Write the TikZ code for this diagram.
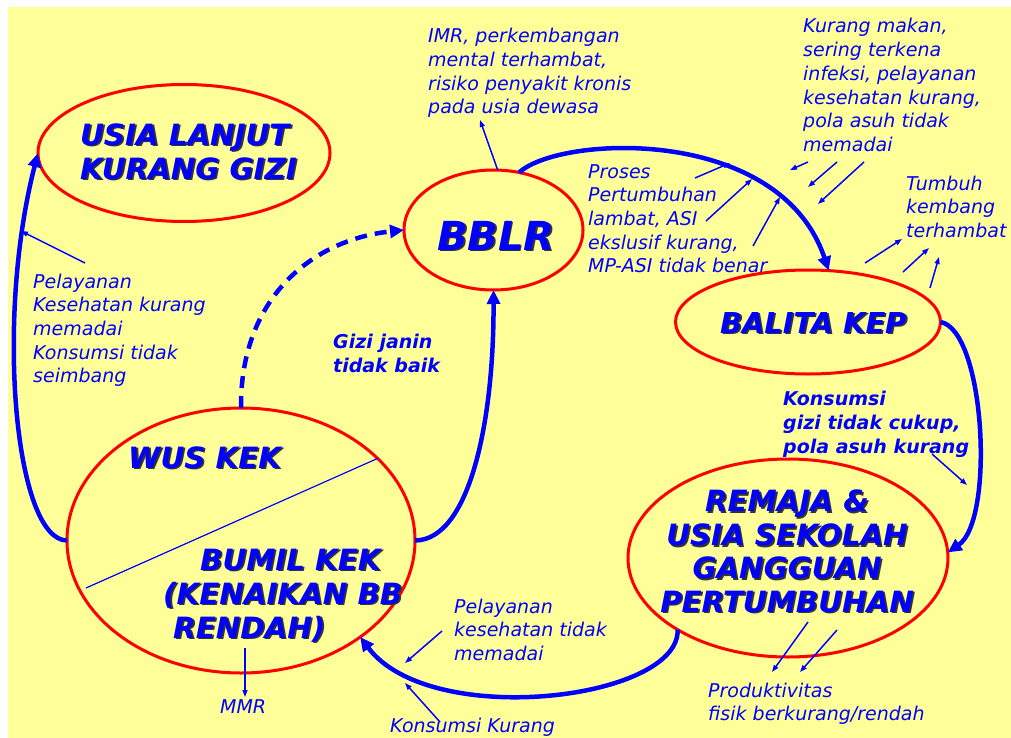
\documentclass[tikz,border=0pt]{standalone}
\usepackage{fontspec}
\setmainfont{DejaVu Sans}
\usetikzlibrary{shapes.geometric,arrows.meta}
\definecolor{bg}{HTML}{FFFF99}
\definecolor{bl}{HTML}{0000FF}
\definecolor{rd}{HTML}{FF0000}
\newcommand\shd[1]{\leavevmode\rlap{\kern1.8pt\raisebox{-1.8pt}{\color{black!80}#1}}#1}
\begin{document}
\begin{tikzpicture}[x=1pt,y=-1pt,
  ell/.style={ellipse, draw=rd, line width=3pt, inner sep=0pt, outer sep=0pt},
  thk/.style={draw=bl, line width=4.5pt, -{Triangle[length=14pt,width=13pt]}},
  dsh/.style={thk, dash pattern=on 12pt off 8pt},
  thn/.style={draw=bl, line width=1.5pt, -{Triangle[length=7pt,width=5pt]}},
  txt/.style={text=bl, font=\fontsize{19}{23.7}\selectfont\itshape, align=left, anchor=base west, inner sep=0pt},
  btxt/.style={txt, font=\fontsize{19}{24}\selectfont\bfseries\itshape},
  ttl/.style={text=bl, font=\fontsize{29.3}{34}\selectfont\bfseries\itshape, align=left, anchor=base west, inner sep=0pt}]
\fill[white] (0,0) rectangle (1011,738);
\fill[bg] (8,7) rectangle (1011,738);
\useasboundingbox (0,0) rectangle (1011,738);

% ellipses
\node[ell, minimum width=292pt, minimum height=137pt] (usia) at (184,153) {};
\node[ell, minimum width=179pt, minimum height=120pt] (bblr) at (493.5,230) {};
\node[ell, minimum width=265pt, minimum height=104pt] (balita) at (808,322) {};
\node[ell, minimum width=320pt, minimum height=198pt] (remaja) at (788,558) {};
\node[ell, minimum width=348pt, minimum height=265pt] (wus) at (241,540.5) {};
\coordinate (wusdiag) at (86,588);
\draw[bl, line width=1.2pt] (wus.31) -- (wusdiag);

% titles (anchored at the baseline of the last line)
\node[ttl] (tusia) at (80,179) {\shd{USIA LANJUT}\\\shd{KURANG GIZI}};
\node[ttl, font=\fontsize{40}{44}\selectfont\bfseries\itshape] (tbblr) at (437,250) {\shd{BBLR}};
\node[ttl, font=\fontsize{28.8}{34}\selectfont\bfseries\itshape] (tbalita) at (720,333) {\shd{BALITA KEP}};
\node[ttl, font=\fontsize{29.3}{33.4}\selectfont\bfseries\itshape, align=center, anchor=base] (tremaja) at (787,612) {\shd{REMAJA \&}\\\shd{USIA SEKOLAH}\\\shd{GANGGUAN}\\\shd{PERTUMBUHAN}};
\node[ttl] (twus) at (128,468) {\shd{WUS KEK}};
\node[ttl] (tbumil) at (163,638) {\hspace{37pt}\shd{BUMIL KEK}\\\shd{(KENAIKAN BB}\\\hspace{10pt}\shd{RENDAH)}};

% texts (anchored at the baseline of the last line)
\node[txt] (imr) at (428,114) {IMR, perkembangan\\mental terhambat,\\risiko penyakit kronis\\pada usia dewasa};
\node[txt] (km) at (803,151.5) {Kurang makan,\\sering terkena\\infeksi, pelayanan\\kesehatan kurang,\\pola asuh tidak\\memadai};
\node[txt] (tk) at (906,237.4) {Tumbuh\\kembang\\terhambat};
\node[txt] (pr) at (588,272.8) {Proses\\Pertumbuhan\\lambat, ASI\\ekslusif kurang,\\MP-ASI tidak benar};
\node[txt] (pl) at (33,382.8) {Pelayanan\\Kesehatan kurang\\memadai\\Konsumsi tidak\\seimbang};
\node[btxt] (gj) at (333,372) {Gizi janin\\tidak baik};
\node[btxt] (kg) at (783,453) {Konsumsi\\gizi tidak cukup,\\pola asuh kurang};
\node[txt] (mmr) at (220,713) {MMR};
\node[txt] (pb) at (454,660.4) {Pelayanan\\kesehatan tidak\\memadai};
\node[txt] (kk) at (390,732) {Konsumsi Kurang};
\node[txt] (prod) at (708,720.7) {Produktivitas\\fisik berkurang/rendah};

% thick connectors
\draw[thk] (bblr.66) .. controls (560,135) and (780,125) .. (balita.68);
\draw[thk] (balita.east) .. controls (985,330) and (995,520) .. (remaja.2);
\draw[thk] (remaja.213) .. controls (680,700) and (430,730) .. (wus.321);
\draw[thk] (wus.east) .. controls (470,540) and (494,420) .. (bblr.south);
\draw[thk] (wus.west) .. controls (15,540) and (-5,320) .. (usia.west);
\draw[dsh] (wus.north) .. controls (240,300) and (310,240) .. (bblr.west);

% thin arrows
\coordinate (imrT) at (480,120);
\draw[thn] (bblr.86) -- (imrT);
\coordinate (km1a) at (808,162); \coordinate (km1b) at (790,170);
\coordinate (km2a) at (837,162); \coordinate (km2b) at (808,187);
\coordinate (km3a) at (864,162); \coordinate (km3b) at (818,204);
\draw[thn] (km1a) -- (km1b);
\draw[thn] (km2a) -- (km2b);
\draw[thn] (km3a) -- (km3b);
\coordinate (pr1a) at (695,178); \coordinate (pr1b) at (730,163);
\coordinate (pr2a) at (706,221); \coordinate (pr2b) at (752,179);
\coordinate (pr3a) at (753,246); \coordinate (pr3b) at (780,197);
\draw[thn] (pr1a) -- (pr1b);
\draw[thn] (pr2a) -- (pr2b);
\draw[thn] (pr3a) -- (pr3b);
\coordinate (tk1a) at (865,263); \coordinate (tk1b) at (902,239);
\coordinate (tk2a) at (903,272); \coordinate (tk2b) at (929,248);
\coordinate (tk3a) at (930,288); \coordinate (tk3b) at (939,257);
\draw[thn] (tk1a) -- (tk1b);
\draw[thn] (tk2a) -- (tk2b);
\draw[thn] (tk3a) -- (tk3b);
\coordinate (pla) at (85,263); \coordinate (plb) at (21,231);
\draw[thn] (pla) -- (plb);
\coordinate (mmra) at (245,648); \coordinate (mmrb) at (245,697);
\draw[thn] (mmra) -- (mmrb);
\coordinate (kga) at (932,454); \coordinate (kgb) at (967,485);
\draw[thn] (kga) -- (kgb);
\coordinate (pba) at (442,631); \coordinate (pbb) at (405,663);
\draw[thn] (pba) -- (pbb);
\coordinate (kka) at (440,722); \coordinate (kkb) at (405,683);
\draw[thn] (kka) -- (kkb);
\coordinate (pd1a) at (808,622); \coordinate (pd1b) at (772,672);
\coordinate (pd2a) at (837,630); \coordinate (pd2b) at (800,672);
\draw[thn] (pd1a) -- (pd1b);
\draw[thn] (pd2a) -- (pd2b);
\end{tikzpicture}
\end{document}
